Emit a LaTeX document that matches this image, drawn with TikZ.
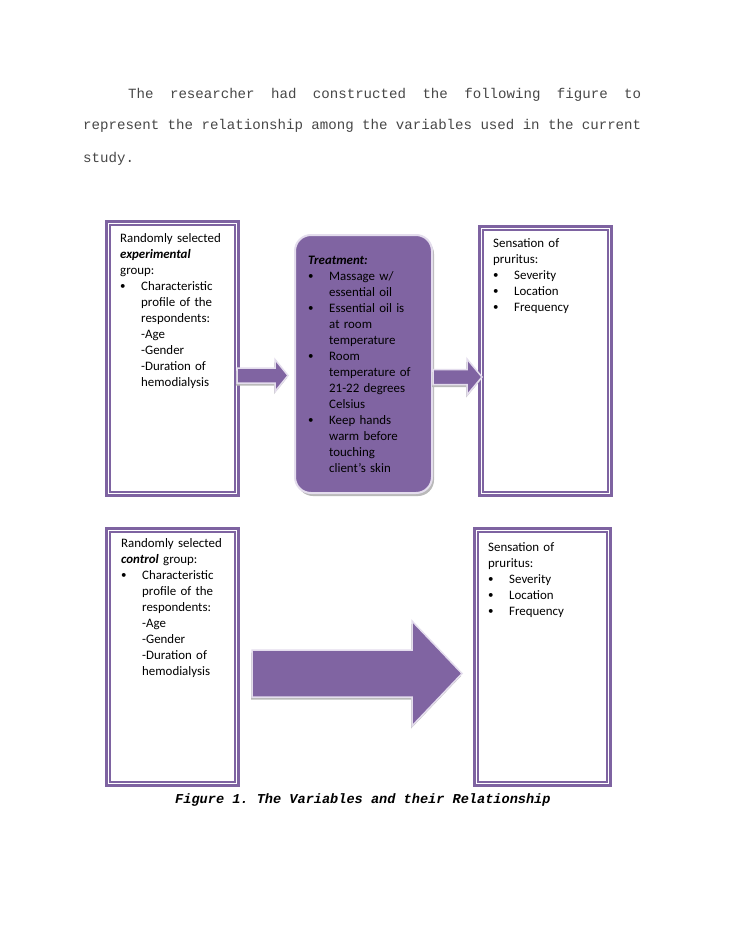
\documentclass[tikz,border=0pt]{standalone}
\usepackage{fontspec}
\setmainfont{Carlito}
\newfontfamily\courierfont{Liberation Mono}
\usetikzlibrary{calc,
                positioning,
                shadows}

\definecolor{violetfill}{HTML}{8064A2}
\definecolor{violetline}{HTML}{7E63A1}
\definecolor{lilac}{HTML}{E4DDED}

\frenchspacing
\newcommand{\bul}{\makebox[21pt][l]{\raisebox{0.4pt}{\scalebox{0.85}{\textbullet}}}}
\newcommand{\ind}{\hspace*{21pt}}
% start, tip, body half, head half, head length
\newcommand{\blockarrow}[5]{%
  \filldraw[flow] let \p1=(#1), \p2=(#2) in
    (\x1,{\y1+#3}) -- ({\x2-#5},{\y1+#3}) -- ({\x2-#5},{\y1+#4})
    -- (\x2,\y1) -- ({\x2-#5},{\y1-#4}) -- ({\x2-#5},{\y1-#3})
    -- (\x1,{\y1-#3}) -- cycle;}

\tikzset{
  panel/.style={draw=violetline, line width=3pt, anchor=north west,
                minimum width=132pt, inner sep=0pt},
  panelinner/.style={draw=violetline, line width=1.1pt},
  treatbox/.style={fill=violetfill, draw=lilac, line width=2pt,
                rounded corners=16pt, anchor=north west,
                minimum width=137pt, minimum height=258pt, inner sep=0pt,
                drop shadow={shadow xshift=2pt, shadow yshift=-3pt,
                             opacity=1, fill=gray!55}},
  flow/.style={fill=violetfill, draw=lilac, line width=1.5pt,
                drop shadow={shadow xshift=-1pt, shadow yshift=-2.5pt,
                             opacity=1, fill=gray!55}},
  txt/.style={anchor=base west, inner sep=0pt, text width=125pt,
                align=left, font=\fontsize{12.9}{16}\selectfont},
  para/.style={anchor=base west, inner sep=0pt, text width=558pt,
                text=black!72, font=\courierfont\fontsize{14.1}{32}\selectfont},
}

\begin{document}
\begin{tikzpicture}[x=1pt, y=-1pt]
    \fill[white] (0,0) rectangle (728,942);
    \useasboundingbox (0,0) rectangle (728,942);

    \node[para] (intro) at (83,98) {%
      \hspace*{45pt}The\hfill researcher\hfill had\hfill constructed\hfill
      the\hfill following\hfill figure\hfill to\\
      represent\hfill the\hfill relationship\hfill among\hfill the\hfill
      variables\hfill used\hfill in\hfill the\hfill current\\
      study.};

    % boxes
    \node[panel, minimum height=274pt] (expT) at (105,220) {};
    \node[treatbox] (treat) at (294,234) {};
    \node[panel, minimum height=269pt] (outT) at (478,225) {};
    \node[panel, minimum height=257pt] (ctrl) at (105,527) {};
    \node[panel, minimum height=257pt, minimum width=136pt] (outB) at (473,527) {};

    \foreach \b in {expT,outT,ctrl,outB}
        \draw[panelinner] ([shift={(5,5)}]\b.north west) rectangle ([shift={(-5,-5)}]\b.south east);

    % arrows
    \coordinate (a1from) at ($(expT.east)+(-3,17)$);
    \coordinate (a1to)   at ($(treat.west)+(-6,0)$);
    \coordinate (a2from) at ($(treat.east)+(0,13)$);
    \coordinate (a2to)   at ($(outT.west)+(4,0)$);
    \coordinate (a3from) at ($(ctrl.east)+(12,16.5)$);
    \coordinate (a3to)   at ($(outB.west)+(-11,0)$);
    \blockarrow{a1from}{a1to}{7.5pt}{16pt}{13pt}
    \blockarrow{a2from}{a2to}{7.5pt}{18pt}{15pt}
    \blockarrow{a3from}{a3to}{23.5pt}{52.5pt}{50pt}

    % texts
    \node[txt] (expTtxt) at ([shift={(15,22)}]expT.north west) {%
      Randomly selected\\
      \textbf{\textit{experimental}}\\
      group:\\
      \bul Characteristic\\
      \ind profile of the\\
      \ind respondents:\\
      \ind -Age\\
      \ind -Gender\\
      \ind -Duration of\\
      \ind hemodialysis};
    \node[txt] (treattxt) at ([shift={(14,30)}]treat.north west) {%
      \textbf{\textit{Treatment:}}\\
      \bul Massage w/\\
      \ind essential oil\\
      \bul Essential oil is\\
      \ind at room\\
      \ind temperature\\
      \bul Room\\
      \ind temperature of\\
      \ind 21-22 degrees\\
      \ind Celsius\\
      \bul Keep hands\\
      \ind warm before\\
      \ind touching\\
      \ind client’s skin};
    \node[txt] (outTtxt) at ([shift={(15,22)}]outT.north west) {%
      Sensation of\\
      pruritus:\\
      \bul Severity\\
      \bul Location\\
      \bul Frequency};
    \node[txt] (ctrltxt) at ([shift={(16,20)}]ctrl.north west) {%
      Randomly selected\\
      \textbf{\textit{control}} group:\\
      \bul Characteristic\\
      \ind profile of the\\
      \ind respondents:\\
      \ind -Age\\
      \ind -Gender\\
      \ind -Duration of\\
      \ind hemodialysis};
    \node[txt] (outBtxt) at ([shift={(15,24)}]outB.north west) {%
      Sensation of\\
      pruritus:\\
      \bul Severity\\
      \bul Location\\
      \bul Frequency};

    \node[anchor=base west, inner sep=0pt,
          font=\courierfont\fontsize{13.6}{16}\selectfont] (caption) at (175,803)
          {\textbf{\textit{Figure 1. The Variables and their Relationship}}};
\end{tikzpicture}
\end{document}
